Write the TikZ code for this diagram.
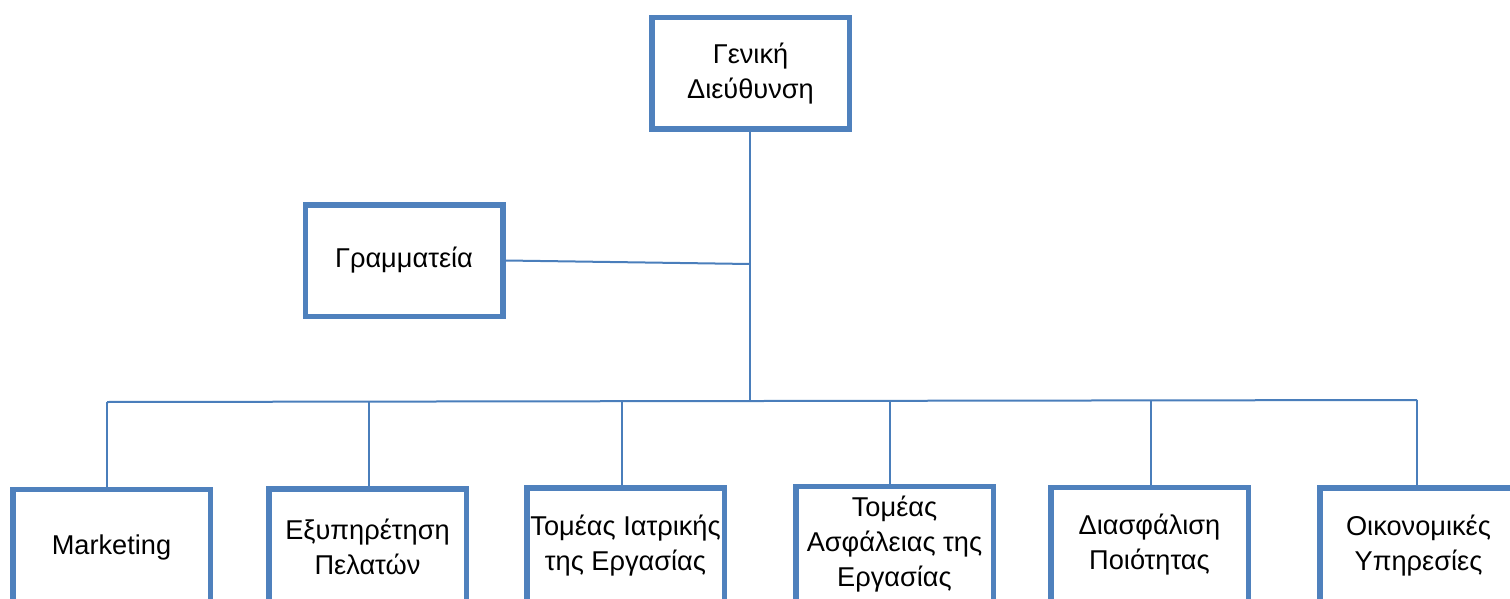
\documentclass[tikz,border=0pt]{standalone}
\usepackage{fontspec}
\setmainfont{Liberation Sans}
\begin{document}
\begin{tikzpicture}[x=1pt,y=-1pt,
  unit/.style={draw=boxblue, line width=5.5pt, fill=white, rectangle,
    minimum width=197.5pt, minimum height=111.5pt, inner sep=0pt,
    align=center, font=\fontsize{27.2}{35}\selectfont},
  dept/.style={unit, minimum height=115.5pt},
  link/.style={draw=lineblue, line width=2pt}]
\definecolor{boxblue}{HTML}{4F81BD}
\definecolor{lineblue}{HTML}{4A7EBB}
\useasboundingbox (0,0) rectangle (1510,599);
\clip (0,0) rectangle (1510,599);

% management and secretariat
\node[unit] (gd) at (750.5,73.5) {Γενική\\Διεύθυνση};
\node[unit] (gr) at (404,260.5) {Γραμματεία};

% departments
\node[dept] (mk) at (111.5,547) {Marketing};
\node[dept] (ex) at (367.5,546.5) {Εξυπηρέτηση\\Πελατών};
\node[dept] (ia) at (625.5,545.5) {Τομέας Ιατρικής\\της Εργασίας};
\node[dept] (as) at (894.5,544) {Τομέας\\Ασφάλειας της\\Εργασίας};
\node[dept] (qa) at (1149.5,545) {Διασφάλιση\\Ποιότητας};
\node[dept] (oi) at (1418.5,545.5) {Οικονομικές\\Υπηρεσίες};

% trunk and bus junctions
\coordinate (t) at (750,264);
\coordinate (b) at (750,401);
\coordinate (j1) at (107,402);
\coordinate (j2) at (369,401.5);
\coordinate (j3) at (622,401.2);
\coordinate (j4) at (890,400.8);
\coordinate (j5) at (1151,400.5);
\coordinate (j6) at (1417,400);

\draw[link] (gd.south -| b) -- (b);
\draw[link] (gr.east) -- (t);
\draw[link] (j1) -- (j6);
\draw[link] (j1) -- (j1 |- mk.north);
\draw[link] (j2) -- (j2 |- ex.north);
\draw[link] (j3) -- (j3 |- ia.north);
\draw[link] (j4) -- (j4 |- as.north);
\draw[link] (j5) -- (j5 |- qa.north);
\draw[link] (j6) -- (j6 |- oi.north);
\end{tikzpicture}
\end{document}
